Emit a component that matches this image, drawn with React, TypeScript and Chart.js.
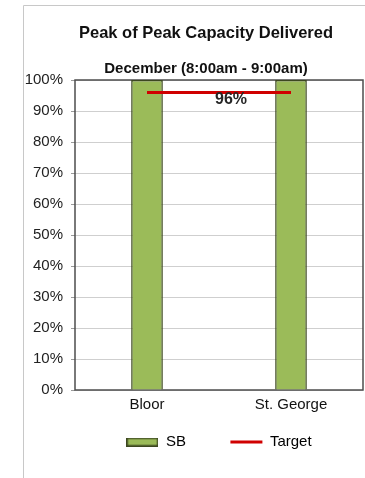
import React, { useEffect, useRef } from 'react';
import { Chart, registerables } from 'chart.js';

Chart.register(...registerables);

const categories = ['Bloor', 'St. George'];
const sbValues = [100, 100];
const targetValues = [96, 96];
const seriesNames = ['SB', 'Target'];
const yMin = 0;
const yMax = 100;
const yStep = 10;
const titleText = 'Peak of Peak Capacity Delivered';
const subtitleText = 'December (8:00am - 9:00am)';

const FONT = "'Liberation Sans', Arial, sans-serif";
const GREEN = '#9bbb59';
const GREEN_BORDER = '#3c4720';
const RED = '#d00000';
const CANVAS_W = 391;
const CANVAS_H = 478;

function makeSwatch(): HTMLCanvasElement {
  const c = document.createElement('canvas');
  c.width = 32;
  c.height = 9;
  const ctx = c.getContext('2d')!;
  ctx.fillStyle = GREEN;
  ctx.fillRect(0, 0, 32, 9);
  ctx.strokeStyle = GREEN_BORDER;
  ctx.lineWidth = 1.5;
  ctx.strokeRect(0.75, 0.75, 30.5, 7.5);
  return c;
}

const framePlugin = {
  id: 'framePlugin',
  beforeDraw(chart: any) {
    const ctx = chart.ctx;
    ctx.save();
    ctx.strokeStyle = '#c8c8c8';
    ctx.lineWidth = 1;
    ctx.beginPath();
    ctx.moveTo(23.5, chart.height);
    ctx.lineTo(23.5, 5.5);
    ctx.lineTo(chart.width, 5.5);
    ctx.stroke();
    ctx.restore();
  },
  beforeDatasetsDraw(chart: any) {
    const { ctx, chartArea } = chart;
    ctx.save();
    ctx.strokeStyle = '#4d4d4d';
    ctx.lineWidth = 1.5;
    ctx.strokeRect(chartArea.left, chartArea.top, chartArea.right - chartArea.left, chartArea.bottom - chartArea.top);
    ctx.restore();
  },
};

const targetLabelPlugin = {
  id: 'targetLabel',
  afterDatasetsDraw(chart: any) {
    const meta = chart.getDatasetMeta(1);
    if (!meta || meta.data.length < 2) return;
    const p0 = meta.data[0];
    const p1 = meta.data[meta.data.length - 1];
    const ctx = chart.ctx;
    ctx.save();
    ctx.font = `bold 16px ${FONT}`;
    ctx.fillStyle = '#262626';
    ctx.textAlign = 'center';
    ctx.textBaseline = 'middle';
    ctx.fillText(`${targetValues[0]}%`, (p0.x + p1.x) / 2 + 12, p0.y + 7);
    ctx.restore();
  },
};

export default function App() {
  const ref = useRef<HTMLCanvasElement>(null);

  useEffect(() => {
    if (!ref.current) return;
    const swatch = makeSwatch();
    const chart = new Chart(ref.current, {
      type: 'bar',
      data: {
        labels: categories,
        datasets: [
          {
            type: 'bar',
            label: seriesNames[0],
            data: sbValues,
            backgroundColor: GREEN,
            borderColor: GREEN_BORDER,
            borderWidth: 1.5,
            barPercentage: 0.22,
            categoryPercentage: 1,
            order: 2,
            yAxisID: 'y',
          },
          {
            type: 'line',
            label: seriesNames[1],
            data: targetValues,
            borderColor: RED,
            backgroundColor: RED,
            borderWidth: 3,
            pointRadius: 0,
            fill: false,
            order: 1,
            yAxisID: 'y',
          },
        ] as any,
      },
      options: {
        responsive: false,
        animation: false,
        devicePixelRatio: 1,
        layout: { padding: { left: 21, right: 0, top: 0, bottom: 18.5 } },
        plugins: {
          title: {
            display: true,
            text: titleText,
            color: '#111',
            font: { family: FONT, size: 16.5, weight: 'bold', lineHeight: 1.2 },
            padding: { top: 24, bottom: 16.4 },
          },
          subtitle: {
            display: true,
            text: subtitleText,
            color: '#111',
            font: { family: FONT, size: 15, weight: 'bold', lineHeight: 1.2 },
            padding: { top: 0, bottom: 1.8 },
          },
          legend: {
            display: true,
            position: 'bottom',
            fullSize: false,
            labels: {
              usePointStyle: true,
              pointStyleWidth: 32,
              boxHeight: 9,
              padding: 44.5,
              color: '#111',
              font: { family: FONT, size: 15 },
              generateLabels: () => [
                {
                  text: seriesNames[0],
                  pointStyle: swatch,
                  fillStyle: GREEN,
                  strokeStyle: GREEN_BORDER,
                  lineWidth: 1.5,
                  hidden: false,
                  datasetIndex: 0,
                },
                {
                  text: seriesNames[1],
                  pointStyle: 'line',
                  fillStyle: RED,
                  strokeStyle: RED,
                  lineWidth: 3,
                  hidden: false,
                  datasetIndex: 1,
                },
              ] as any,
            },
          },
          tooltip: { enabled: false },
        },
        scales: {
          x: {
            grid: { display: false, drawTicks: false },
            border: { display: false },
            ticks: { color: '#111', font: { family: FONT, size: 15 }, mirror: true, padding: -24 },
            afterFit: (s: any) => { s.height = 0; },
          },
          y: {
            min: yMin,
            max: yMax,
            grid: { color: '#cfcfcf', lineWidth: 1, tickLength: 4, tickColor: '#9a9a9a' },
            border: { display: false },
            ticks: {
              stepSize: yStep,
              color: '#222',
              padding: 8,
              font: { family: FONT, size: 15 },
              callback: (v: any) => `${v}%`,
            },
            afterFit: (s: any) => { s.width = 54; },
          },
          spacer: {
            type: 'linear',
            position: 'right',
            display: true,
            grid: { display: false, drawTicks: false },
            border: { display: false },
            ticks: { display: false },
            afterFit: (s: any) => { s.width = 28; },
          },
        },
      } as any,
      plugins: [framePlugin, targetLabelPlugin],
    });
    return () => chart.destroy();
  }, []);

  return (
    <div style={{ position: 'absolute', left: 0, top: 0, width: 365, height: 478, overflow: 'hidden', background: '#fff' }}>
      <canvas ref={ref} width={CANVAS_W} height={CANVAS_H} style={{ display: 'block' }} />
    </div>
  );
}
